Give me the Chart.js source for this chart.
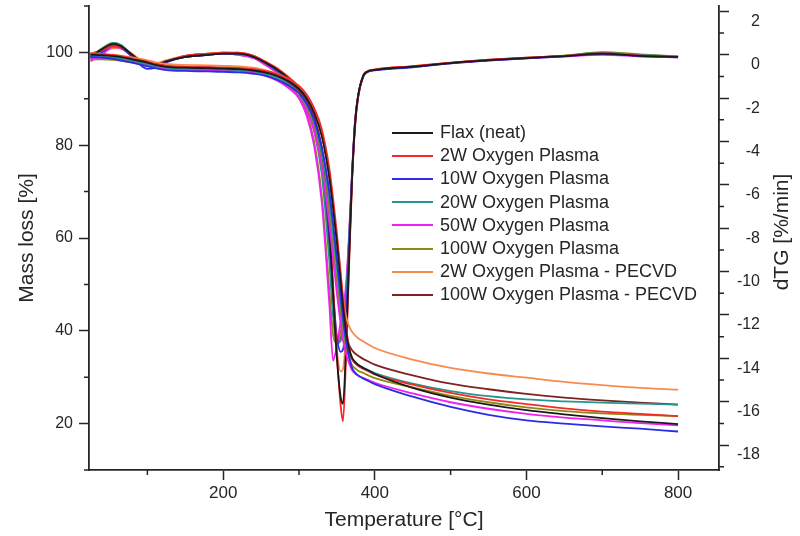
<!DOCTYPE html>
<html>
<head>
<meta charset="utf-8">
<script src="https://cdn.jsdelivr.net/npm/chart.js@4"></script>
<style>
  body { margin: 0; background: #fff; }
  #wrap { position: relative; width: 800px; height: 536px; }
  #legend { position: absolute; left: 392px; top: 121px; font: 18px "Liberation Sans", Arial, sans-serif; color: #262626; }
  #legend .row { height: 23.2px; display: flex; align-items: center; white-space: nowrap; }
  #legend .swatch { width: 41px; height: 2px; margin-right: 7px; }
</style>
</head>
<body>
<div id="wrap">
  <canvas id="tgaChart" width="800" height="536"></canvas>
  <div id="legend"></div>
</div>
<script>
// Temperature points (°C), shared by every curve
const temperature = [25, 40, 55, 65, 80, 100, 110, 125, 150, 180, 200, 220, 240, 255, 270, 285, 300, 310, 320, 330,
  340, 345, 350, 355, 358, 362, 366, 370, 374, 378, 385, 390, 400, 450, 500, 550, 600, 650, 700, 750, 800];

const seriesNames = ["Flax (neat)", "2W Oxygen Plasma", "10W Oxygen Plasma", "20W Oxygen Plasma",
  "50W Oxygen Plasma", "100W Oxygen Plasma", "2W Oxygen Plasma - PECVD", "100W Oxygen Plasma - PECVD"];
const seriesColors = ["#1a1a1a", "#f5282a", "#2c2ce6", "#23968e", "#f020f0", "#8a8a14", "#f88a4e", "#7e2222"];

// Mass loss [%]
const tgaNeat = [99.5, 99.4, 99.2, 99.0, 98.5, 97.8, 97.3, 96.9, 96.7, 96.6, 96.5, 96.4, 96.1, 95.7, 95.0, 93.9, 92.2, 90.2, 87.0, 82.0,
  73.0, 66.5, 59.0, 50.5, 45.5, 40.0, 36.2, 34.2, 33.3, 32.7, 32.0, 31.6, 30.7, 27.7, 25.6, 24.1, 22.9, 22.0, 21.2, 20.5, 19.9];
const tga2W = [99.7, 99.6, 99.4, 99.2, 98.7, 98.0, 97.5, 97.1, 96.9, 96.8, 96.7, 96.6, 96.4, 96.0, 95.4, 94.4, 92.8, 91.0, 88.0, 83.5,
  75.0, 68.5, 61.0, 52.5, 47.0, 41.0, 36.5, 34.0, 33.0, 32.4, 31.8, 31.4, 30.6, 28.4, 26.6, 25.2, 24.2, 23.3, 22.6, 22.1, 21.6];
const tga10W = [99.0, 98.9, 98.6, 98.3, 97.8, 97.0, 96.6, 96.2, 96.0, 95.9, 95.8, 95.7, 95.4, 95.0, 94.2, 93.0, 91.2, 89.0, 85.5, 79.5,
  70.0, 63.0, 55.5, 47.5, 43.0, 38.0, 34.5, 32.0, 31.0, 30.4, 29.7, 29.3, 28.5, 25.8, 23.6, 21.9, 20.7, 20.0, 19.4, 18.9, 18.3];
const tga20W = [99.2, 99.1, 98.9, 98.7, 98.2, 97.5, 97.1, 96.7, 96.5, 96.4, 96.3, 96.2, 95.9, 95.4, 94.6, 93.3, 91.3, 89.0, 85.0, 78.5,
  68.0, 61.0, 53.5, 46.0, 42.0, 38.0, 35.3, 33.8, 33.1, 32.6, 32.0, 31.6, 30.9, 28.6, 27.0, 25.9, 25.2, 24.8, 24.5, 24.3, 24.1];
const tga50W = [98.8, 98.8, 98.7, 98.5, 98.0, 97.3, 96.9, 96.5, 96.3, 96.2, 96.1, 96.0, 95.6, 95.0, 94.0, 92.5, 90.2, 87.5, 83.0, 75.5,
  63.0, 55.5, 48.0, 41.5, 38.0, 35.0, 33.0, 31.5, 30.8, 30.3, 29.8, 29.5, 28.8, 26.5, 24.6, 23.2, 22.1, 21.3, 20.7, 20.1, 19.6];
const tga100W = [98.5, 98.5, 98.4, 98.2, 97.8, 97.2, 96.9, 96.6, 96.5, 96.4, 96.3, 96.2, 95.8, 95.2, 94.2, 92.7, 90.5, 88.0, 83.8, 76.5,
  65.0, 58.0, 50.5, 43.5, 40.0, 36.5, 34.2, 32.6, 31.9, 31.4, 30.9, 30.5, 29.8, 27.8, 26.0, 24.6, 23.5, 22.7, 22.2, 21.9, 21.6];
const tga2WPecvd = [99.8, 99.7, 99.5, 99.3, 98.9, 98.3, 97.9, 97.5, 97.3, 97.2, 97.1, 97.0, 96.7, 96.2, 95.5, 94.4, 92.6, 90.6, 87.3, 82.0,
  73.0, 66.5, 59.5, 52.0, 47.5, 43.2, 41.0, 39.8, 39.0, 38.4, 37.7, 37.2, 36.3, 33.8, 32.0, 30.8, 29.9, 29.0, 28.3, 27.7, 27.3];
const tga100WPecvd = [99.6, 99.5, 99.3, 99.1, 98.6, 97.9, 97.5, 97.1, 96.9, 96.8, 96.7, 96.6, 96.3, 95.8, 95.0, 93.7, 91.7, 89.5, 85.8, 79.5,
  69.0, 62.0, 54.5, 46.5, 42.5, 39.0, 37.0, 35.8, 35.1, 34.6, 33.9, 33.5, 32.7, 30.4, 28.6, 27.4, 26.4, 25.6, 25.0, 24.5, 24.1];

// dTG [%/min]
const dtgNeat = [-0.1, 0.25, 0.5, 0.4, 0.0, -0.5, -0.5, -0.3, -0.1, 0.0, 0.05, 0.05, -0.1, -0.35, -0.65, -1.05, -1.6, -2.1, -3.0, -4.6,
  -8.0, -11.0, -14.0, -15.8, -16.1, -13.5, -9.5, -5.7, -3.2, -1.9, -0.95, -0.78, -0.7, -0.55, -0.38, -0.25, -0.15, -0.06, 0.05, -0.05, -0.1];
const dtg2W = [0.0, 0.2, 0.4, 0.35, 0.0, -0.45, -0.45, -0.3, -0.05, 0.05, 0.1, 0.1, -0.05, -0.3, -0.6, -1.0, -1.5, -2.0, -2.8, -4.3,
  -7.5, -10.6, -13.8, -16.2, -16.9, -14.0, -9.8, -5.8, -3.3, -2.0, -0.95, -0.78, -0.68, -0.52, -0.36, -0.23, -0.13, -0.05, 0.08, -0.03, -0.1];
const dtg10W = [-0.2, 0.1, 0.45, 0.35, -0.1, -0.65, -0.6, -0.35, -0.1, 0.0, 0.05, 0.05, -0.1, -0.35, -0.7, -1.1, -1.6, -2.2, -3.1, -4.8,
  -8.3, -11.0, -13.0, -13.7, -13.6, -12.2, -9.0, -5.6, -3.1, -1.9, -1.0, -0.8, -0.72, -0.58, -0.4, -0.27, -0.17, -0.07, 0.03, -0.05, -0.12];
const dtg20W = [-0.1, 0.25, 0.55, 0.45, 0.0, -0.5, -0.5, -0.3, -0.1, 0.0, 0.05, 0.05, -0.05, -0.35, -0.7, -1.15, -1.8, -2.4, -3.5, -5.5,
  -9.5, -12.0, -13.3, -13.2, -12.6, -11.2, -8.6, -5.5, -3.1, -1.9, -0.95, -0.78, -0.7, -0.55, -0.38, -0.25, -0.14, -0.05, 0.1, 0.0, -0.08];
const dtg50W = [-0.3, 0.0, 0.35, 0.3, -0.05, -0.5, -0.5, -0.3, -0.1, 0.0, 0.05, 0.0, -0.15, -0.45, -0.8, -1.25, -2.0, -2.8, -4.2, -6.8,
  -11.5, -14.1, -13.4, -12.3, -11.8, -10.6, -8.3, -5.4, -3.0, -1.9, -0.95, -0.78, -0.7, -0.56, -0.39, -0.26, -0.16, -0.08, 0.0, -0.08, -0.12];
const dtg100W = [-0.1, 0.3, 0.55, 0.45, 0.0, -0.45, -0.45, -0.3, -0.1, 0.0, 0.05, 0.0, -0.15, -0.45, -0.8, -1.25, -2.0, -2.7, -4.0, -6.5,
  -10.8, -12.9, -13.3, -12.8, -12.3, -11.0, -8.5, -5.5, -3.0, -1.9, -0.95, -0.77, -0.69, -0.54, -0.37, -0.24, -0.13, -0.04, 0.12, 0.02, -0.08];
const dtg2WPecvd = [0.05, 0.15, 0.3, 0.3, 0.05, -0.4, -0.4, -0.25, -0.05, 0.05, 0.1, 0.1, -0.05, -0.3, -0.6, -1.0, -1.5, -2.0, -2.9, -4.5,
  -7.8, -11.0, -13.6, -14.6, -14.5, -12.8, -9.3, -5.7, -3.2, -1.9, -0.92, -0.76, -0.68, -0.53, -0.37, -0.24, -0.14, -0.05, 0.06, -0.03, -0.1];
const dtg100WPecvd = [0.05, 0.2, 0.35, 0.3, 0.0, -0.45, -0.45, -0.3, -0.05, 0.05, 0.1, 0.05, -0.1, -0.35, -0.65, -1.05, -1.6, -2.2, -3.2, -5.0,
  -9.0, -11.8, -13.3, -13.1, -12.6, -11.3, -8.6, -5.6, -3.1, -1.9, -0.95, -0.78, -0.7, -0.55, -0.38, -0.25, -0.15, -0.05, 0.08, -0.02, -0.1];

// Axis ticks
const xTicks = [200, 400, 600, 800];
const xMinorTicks = [100, 300, 500, 700];
const massTicks = [20, 40, 60, 80, 100];
const massMinorTicks = [10, 30, 50, 70, 90, 110];
const dtgTicks = [2, 0, -2, -4, -6, -8, -10, -12, -14, -16, -18];
const dtgMinorTicks = [1, -1, -3, -5, -7, -9, -11, -13, -15, -17, -19];

const tgaSeries = [tgaNeat, tga2W, tga10W, tga20W, tga50W, tga100W, tga2WPecvd, tga100WPecvd];
const dtgSeries = [dtgNeat, dtg2W, dtg10W, dtg20W, dtg50W, dtg100W, dtg2WPecvd, dtg100WPecvd];

const FONT = '"Liberation Sans", Arial, sans-serif';
const INK = "#262626";

function toPoints(values) {
  return values.map((v, i) => ({ x: temperature[i], y: v }));
}

const datasets = [];
seriesNames.forEach((name, i) => {
  datasets.push({ label: name, data: toPoints(tgaSeries[i]), yAxisID: "y",
    borderColor: seriesColors[i], borderWidth: 1.8, pointRadius: 0, cubicInterpolationMode: "monotone" });
});
seriesNames.forEach((name, i) => {
  datasets.push({ label: name + " dTG", data: toPoints(dtgSeries[i]), yAxisID: "y1",
    borderColor: seriesColors[i], borderWidth: 1.8, pointRadius: 0, cubicInterpolationMode: "monotone" });
});

// minor ticks and the right-hand title (reads bottom to top like the left one)
const extras = {
  id: "extras",
  afterDraw(chart) {
    const ctx = chart.ctx;
    const { x, y, y1 } = chart.scales;
    ctx.save();
    ctx.strokeStyle = INK;
    ctx.lineWidth = 1.5;
    ctx.beginPath();
    xMinorTicks.forEach(v => { const p = x.getPixelForValue(v); ctx.moveTo(p, x.top); ctx.lineTo(p, x.top + 5); });
    massMinorTicks.forEach(v => { const p = y.getPixelForValue(v); ctx.moveTo(y.right - 5, p); ctx.lineTo(y.right, p); });
    dtgMinorTicks.forEach(v => { const p = y1.getPixelForValue(v); ctx.moveTo(y1.left, p); ctx.lineTo(y1.left + 5, p); });
    ctx.stroke();

    ctx.translate(y1.right + 22, (y1.top + y1.bottom) / 2 - 6);
    ctx.rotate(-Math.PI / 2);
    ctx.fillStyle = INK;
    ctx.font = "21px " + FONT;
    ctx.textAlign = "center";
    ctx.textBaseline = "middle";
    ctx.fillText("dTG [%/min]", 0, 0);
    ctx.restore();
  }
};

const gridStyle = { drawOnChartArea: false, drawTicks: true, tickLength: 10, tickColor: INK, tickWidth: 1.5 };
const borderStyle = { display: true, color: INK, width: 1.8 };

// fixed box sizes so the plot area sits where the original one does
function fixBox(size) {
  return s => {
    if (s.isHorizontal()) s.height = size; else s.width = size;
    s.paddingTop = 0; s.paddingBottom = 0; s.paddingLeft = 0; s.paddingRight = 0;
  };
}

new Chart(document.getElementById("tgaChart").getContext("2d"), {
  type: "line",
  data: { datasets: datasets },
  plugins: [extras],
  options: {
    responsive: false,
    animation: false,
    layout: { padding: { top: 6, left: 0, right: 40, bottom: 0 } },
    plugins: { legend: { display: false }, tooltip: { enabled: false } },
    scales: {
      x: {
        type: "linear", min: 23, max: 854,
        afterBuildTicks: s => { s.ticks = xTicks.map(v => ({ value: v })); },
        afterFit: fixBox(66),
        grid: gridStyle, border: borderStyle,
        ticks: { color: INK, font: { family: FONT, size: 17 }, padding: 3, maxRotation: 0 },
        title: { display: true, text: "Temperature [°C]", color: INK, font: { family: FONT, size: 21 }, padding: { top: 0, bottom: 3 } }
      },
      y: {
        type: "linear", position: "left", min: 10, max: 110,
        afterBuildTicks: s => { s.ticks = massTicks.map(v => ({ value: v })); },
        afterFit: fixBox(89),
        grid: gridStyle, border: borderStyle,
        ticks: { color: INK, font: { family: FONT, size: 16 }, padding: 6 },
        title: { display: true, text: "Mass loss [%]", color: INK, font: { family: FONT, size: 21 }, padding: { top: 15, bottom: 0 } }
      },
      y1: {
        type: "linear", position: "right", min: -19.15, max: 2.25,
        afterBuildTicks: s => { s.ticks = dtgTicks.map(v => ({ value: v })); },
        afterFit: fixBox(41),
        grid: gridStyle, border: borderStyle,
        ticks: { color: INK, font: { family: FONT, size: 16 }, padding: 6, labelOffset: 10, crossAlign: "far" }
      }
    }
  }
});

// legend inside the plot
const legend = document.getElementById("legend");
seriesNames.forEach((name, i) => {
  const row = document.createElement("div");
  row.className = "row";
  row.innerHTML = `<span class="swatch" style="background:${seriesColors[i]}"></span><span>${name}</span>`;
  legend.appendChild(row);
});
</script>
</body>
</html>
